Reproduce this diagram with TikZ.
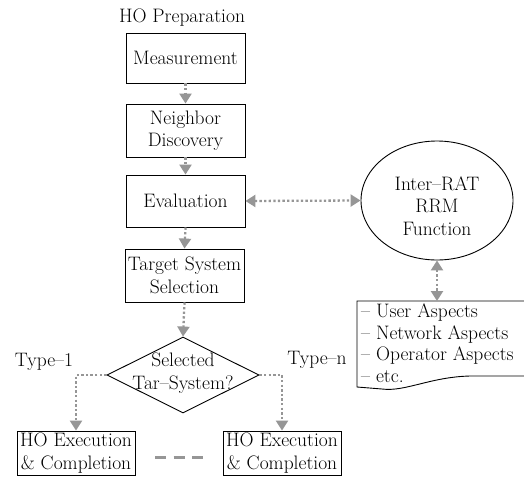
\documentclass[tikz,border=0pt]{standalone}
\usepackage{fontspec}
\usetikzlibrary{arrows.meta,shapes.geometric}
\definecolor{arrowgray}{RGB}{150,150,150}
\newcommand{\mysz}{\fontsize{19.5pt}{22.5pt}\selectfont}
\tikzset{
  box/.style={draw=black, line width=0.9pt, inner sep=0pt, align=center, font=\mysz},
  plain/.style={inner sep=0pt, align=center, font=\mysz},
  garrow/.style={draw=arrowgray, line width=2.3pt, dash pattern=on 2.3pt off 2.3pt,
    -{Triangle[width=12pt,length=10pt]}},
  gdarrow/.style={draw=arrowgray, line width=2.3pt, dash pattern=on 2.3pt off 2.3pt,
    {Triangle[width=12pt,length=10pt]}-{Triangle[width=12pt,length=10pt]}},
}
\begin{document}
\begin{tikzpicture}[x=1pt,y=-1pt]
\useasboundingbox[fill=white] (0,0) rectangle (524,485);

\node[plain] (prep) at (182,18) {HO Preparation};
\node[box, minimum width=119pt, minimum height=50pt] (meas) at (185.5,58) {Measurement};
\node[box, minimum width=119pt, minimum height=53pt] (neigh) at (185.5,130.5) {Neighbor\\Discovery};
\node[box, minimum width=119pt, minimum height=52pt] (eval) at (185.5,201) {Evaluation};
\node[box, minimum width=119pt, minimum height=53pt] (targ) at (184.5,275.5) {Target System\\Selection};
\node[draw=black, line width=0.9pt, shape=diamond, inner sep=0pt,
      minimum width=152pt, minimum height=76pt] (dia) at (183,375) {};
\node[plain] (diatext) at (183,373) {Selected\\Tar--System?};
\node[box, minimum width=118pt, minimum height=44pt] (exec1) at (76,453) {HO Execution\\\& Completion};
\node[box, minimum width=118pt, minimum height=44pt] (execn) at (282,453) {HO Execution\\\& Completion};
\node[plain] (type1) at (44,362) {Type--1};
\node[plain] (typen) at (317,360) {Type--n};
\node[draw=black, line width=0.9pt, shape=ellipse, inner sep=0pt,
      minimum width=152pt, minimum height=119pt] (rrm) at (437,200.5) {};
\node[plain] (rrmtext) at (437,206) {Inter--RAT\\RRM\\Function};

% document shape
\begin{scope}
\clip (0,0) rectangle (524,485);
\draw[line width=0.9pt] (357,301) -- (540,301) -- (540,376) -- (470,376)
   .. controls (430,377) and (405,392) .. (382,389) -- (357,387) -- cycle;
\end{scope}
\coordinate (docN) at (437,301);
\node[anchor=north west, inner sep=0pt, align=left, font=\fontsize{19.5pt}{21.5pt}\selectfont] (doctext) at (361,304)
  {-- User Aspects\\-- Network Aspects\\-- Operator Aspects\\-- etc.};

% connectors
\draw[garrow] (meas.south) -- (neigh.north);
\draw[garrow] (neigh.south) -- (eval.north);
\draw[garrow] (eval.south) -- (targ.north);
\draw[garrow] (targ.south) -- (dia.north);
\draw[garrow] (dia.west) -| (exec1.north);
\draw[garrow] (dia.east) -| (execn.north);
\draw[gdarrow] (eval.east) -- (rrm.west);
\draw[gdarrow] (rrm.south) -- (docN);
\path (exec1.east) -- (execn.west) coordinate[pos=0.5] (mid);
\draw[draw=arrowgray, line width=3pt, dash pattern=on 11pt off 7.5pt] ([xshift=-24pt,yshift=-4pt]mid) coordinate (dl) -- ([xshift=24pt,yshift=-4pt]mid) coordinate (dr);
\end{tikzpicture}
\end{document}
